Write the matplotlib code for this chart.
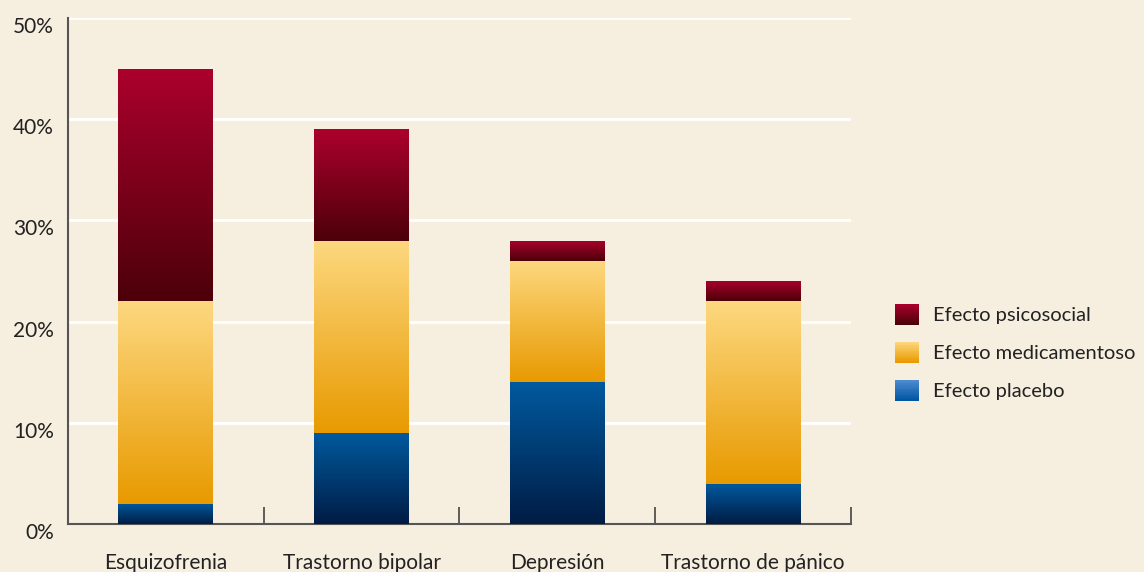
import numpy as np
import matplotlib
matplotlib.use("Agg")
import matplotlib.pyplot as plt
from matplotlib.colors import LinearSegmentedColormap
from matplotlib.patches import Rectangle
from matplotlib.legend_handler import HandlerBase
from matplotlib.transforms import ScaledTranslation

# datos (porcentaje)
categorias = ["Esquizofrenia", "Trastorno bipolar", "Depresión", "Trastorno de pánico"]
placebo = [2, 9, 14, 4]
medicamentoso = [20, 19, 12, 18]
psicosocial = [23, 11, 2, 2]
series_nombres = ["Efecto placebo", "Efecto medicamentoso", "Efecto psicosocial"]

fondo = "#F6EEDF"
# gradientes (arriba, abajo)
grad_bar = {
    "Efecto psicosocial": ("#AC002C", "#4C0009"),
    "Efecto medicamentoso": ("#FDD880", "#E89A00"),
    "Efecto placebo": ("#005A9F", "#001C44"),
}
grad_leg = {
    "Efecto psicosocial": ("#A8002B", "#4C0009"),
    "Efecto medicamentoso": ("#FDD57A", "#E89A00"),
    "Efecto placebo": ("#4D8BD1", "#0056A2"),
}

plt.rcParams['font.family'] = ['Lato', 'DejaVu Sans']
fs = 15

fig = plt.figure(figsize=(11.44, 5.72), dpi=100, facecolor=fondo)
ax = fig.add_axes([0.0594, 0.0839, 0.7845 - 0.0594 - 0.0406, 0.9685 - 0.0839])
ax.set_facecolor(fondo)

x = np.arange(len(categorias))
ancho = 0.485
abajo = np.zeros(len(categorias))
for nombre, vals in zip(series_nombres, [placebo, medicamentoso, psicosocial]):
    barras = ax.bar(x, vals, ancho, bottom=abajo, color="none", edgecolor="none", zorder=3)
    cmap = LinearSegmentedColormap.from_list(nombre, [grad_bar[nombre][1], grad_bar[nombre][0]])
    for b in barras:
        bx, by = b.get_x(), b.get_y()
        w, h = b.get_width(), b.get_height()
        grad = np.linspace(0, 1, 256).reshape(-1, 1)
        im = ax.imshow(grad, cmap=cmap, origin="lower", aspect="auto",
                       extent=(bx, bx + w, by, by + h), zorder=3)
        im.set_clip_path(b)
    abajo = abajo + np.array(vals)

ax.set_xlim(-0.5, len(categorias) - 0.5)
ax.set_ylim(0, 50)
ax.set_yticks(range(0, 51, 10))
ax.set_yticklabels([f"{v}%" for v in range(0, 51, 10)], fontsize=fs, color="#222222")
ax.tick_params(axis="y", length=0, pad=10)
for lab in ax.get_yticklabels():
    lab.set_transform(lab.get_transform() + ScaledTranslation(0, -7 / 100, fig.dpi_scale_trans))

ax.set_xticks(x)
ax.set_xticklabels(categorias, fontsize=fs, color="#222222")
ax.tick_params(axis="x", length=0, pad=21)
ax.set_xticks(np.arange(0.5, len(categorias), 1), minor=True)
ax.tick_params(axis="x", which="minor", direction="in", length=12, width=1.2, color="#444444")

ax.grid(axis="y", color="white", linewidth=2, zorder=1)
ax.set_axisbelow(True)
for s in ["top", "right"]:
    ax.spines[s].set_visible(False)
for s in ["left", "bottom"]:
    ax.spines[s].set_color("#555555")
    ax.spines[s].set_linewidth(1.5)


class HandlerGrad(HandlerBase):
    def __init__(self, arriba, abajo_c):
        super().__init__()
        self.cmap = LinearSegmentedColormap.from_list("g", [abajo_c, arriba])

    def create_artists(self, legend, orig_handle, xdescent, ydescent, width, height, fontsize, trans):
        n = 24
        arts = []
        for i in range(n):
            r = Rectangle((-xdescent, -ydescent + height * i / n), width, height / n + 0.05,
                          facecolor=self.cmap(i / (n - 1)), edgecolor="none", transform=trans)
            arts.append(r)
        return arts


orden = ["Efecto psicosocial", "Efecto medicamentoso", "Efecto placebo"]
handles = [Rectangle((0, 0), 1, 1) for _ in orden]
hmap = {h: HandlerGrad(*grad_leg[n]) for h, n in zip(handles, orden)}
leg = fig.legend(handles, orden, handler_map=hmap, loc="center left",
                 bbox_to_anchor=(0.7735, 0.384), frameon=False, fontsize=14.5,
                 handlelength=1.2, handleheight=1.2, labelspacing=0.86,
                 handletextpad=0.7, borderpad=0)
for t in leg.get_texts():
    t.set_color("#222222")

fig.savefig("out.png", dpi=100, facecolor=fondo)
